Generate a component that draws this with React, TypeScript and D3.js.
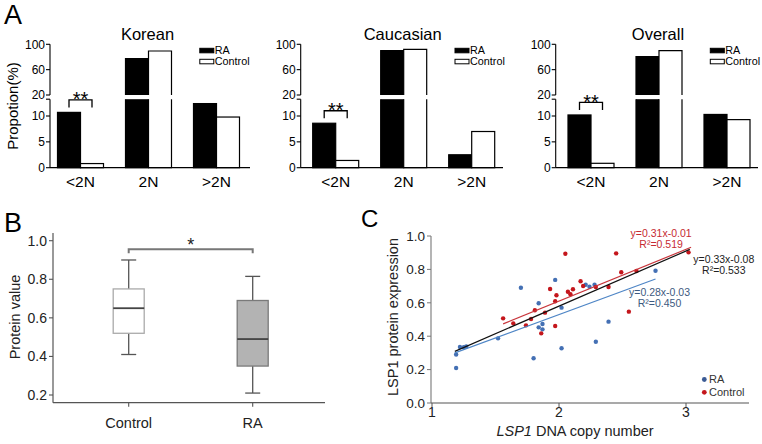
import React from "react";
import * as d3 from "d3";

const FONT = "'Liberation Sans', Arial, Helvetica, sans-serif";

// ---------- Panel A data ----------
const cnvGroups = ["<2N", "2N", ">2N"];
const populations = ["Korean", "Caucasian", "Overall"];
const raKorean = [10.7, 77.3, 12.4];
const controlKorean = [0.8, 89.4, 9.8];
const raCaucasian = [8.6, 89.9, 2.5];
const controlCaucasian = [1.4, 92.1, 7.0];
const raOverall = [10.2, 80.4, 10.3];
const controlOverall = [0.85, 89.9, 9.3];
const lowerTicks = [0, 5, 10];
const upperTicks = [20, 60, 100];
const legendA = ["RA", "Control"];
const sigA = ["**", "**", "**"];

// ---------- Panel B data ----------
const boxGroups = ["Control", "RA"];
const boxMin = [0.41, 0.21];
const boxQ1 = [0.52, 0.35];
const boxMedian = [0.65, 0.49];
const boxQ3 = [0.75, 0.69];
const boxMax = [0.9, 0.815];
const boxTicks = [0.2, 0.4, 0.6, 0.8, 1.0];

// ---------- Panel C data ----------
const raCopy = [1.19, 1.19, 1.22, 1.25, 1.27, 1.52, 1.7, 1.84, 1.84, 1.87, 1.87, 1.8, 1.97, 2.02, 2.02, 2.21, 2.24, 2.28, 2.29, 2.39, 2.76];
const raProtein = [0.21, 0.29, 0.335, 0.334, 0.338, 0.387, 0.69, 0.597, 0.453, 0.473, 0.441, 0.268, 0.737, 0.571, 0.328, 0.708, 0.696, 0.708, 0.367, 0.487, 0.792];
const controlCopy = [1.56, 1.64, 1.74, 1.78, 1.81, 1.86, 1.89, 1.93, 1.97, 1.97, 1.98, 2.05, 2.07, 2.09, 2.11, 2.17, 2.19, 2.29, 2.39, 2.45, 2.49, 2.55, 2.61, 3.02];
const controlProtein = [0.507, 0.477, 0.465, 0.503, 0.555, 0.417, 0.541, 0.683, 0.461, 0.609, 0.645, 0.894, 0.666, 0.651, 0.681, 0.729, 0.701, 0.695, 0.695, 0.896, 0.783, 0.547, 0.79, 0.902];
const fitSlope = [0.31, 0.33, 0.28];
const fitIntercept = [-0.01, -0.08, -0.03];
const fitFrom = [1.56, 1.18, 1.18];
const fitTo = [3.04, 3.03, 2.76];
const fitEq = ["y=0.31x-0.01", "y=0.33x-0.08", "y=0.28x-0.03"];
const fitR2 = ["R\u00B2=0.519", "R\u00B2=0.533", "R\u00B2=0.450"];
const cTicksY = [0, 0.2, 0.4, 0.6, 0.8, 1.0];
const cTicksX = [1, 2, 3];
const legendC = ["RA", "Control"];

// ---------- styling ----------
const RED = "#c4161c";
const BLUE = "#4470b4";
const fitLineColors = ["#c8353b", "#111111", "#4f86c6"];
const fitTextColors = ["#c62a32", "#222222", "#3d5a80"];
const fitLabelDx = [-30, 34, 4];
const fitLabelDy = [-14, 9.5, 13];

export default function App() {
  // ===== Panel A =====
  const aAxisX = [50, 300.7, 555.7];
  const aAxisEnd = [250, 503, 758];
  const aGroupOffset = [30.5, 35, 35.3];
  const yLower = d3.scaleLinear().domain([0, 10]).range([167.7, 116]);
  const yUpper = d3.scaleLinear().domain([20, 100]).range([95, 44.3]);
  const LOWER_MAX = 13.25;
  const barW = 23;
  const seriesA = [
    [raKorean, controlKorean],
    [raCaucasian, controlCaucasian],
    [raOverall, controlOverall],
  ];

  const panelA = populations.map((name, p) => {
    const ax = aAxisX[p];
    const x = d3
      .scalePoint<string>()
      .domain(cnvGroups)
      .range([ax + aGroupOffset[p], ax + aGroupOffset[p] + 136]);
    const els: React.ReactNode[] = [];
    seriesA[p].forEach((vals, s) => {
      vals.forEach((v, i) => {
        const c = x(cnvGroups[i])!;
        const x0 = s === 0 ? c - barW : c;
        const x1 = x0 + barW;
        const fill = s === 0 ? "#000" : "#fff";
        const k = `b${p}-${s}-${i}`;
        if (v <= LOWER_MAX) {
          const yt = yLower(v);
          const yb = yLower(0);
          els.push(
            <rect key={k} x={x0} y={yt} width={barW} height={yb - yt} fill={fill} stroke="#000" strokeWidth={1.2} />
          );
        } else {
          const ylt = yLower(LOWER_MAX);
          const yb = yLower(0);
          const yut = yUpper(v);
          const yub = yUpper(20);
          els.push(<rect key={k + "lf"} x={x0} y={ylt} width={barW} height={yb - ylt} fill={fill} />);
          els.push(
            <path key={k + "ls"} d={`M${x0},${ylt}V${yb}H${x1}V${ylt}`} fill="none" stroke="#000" strokeWidth={1.2} />
          );
          els.push(<rect key={k + "uf"} x={x0} y={yut} width={barW} height={yub - yut} fill={fill} />);
          els.push(
            <path key={k + "us"} d={`M${x0},${yub}V${yut}H${x1}V${yub}`} fill="none" stroke="#000" strokeWidth={1.2} />
          );
        }
      });
    });
    const ra0 = seriesA[p][0][0];
    const c0 = x(cnvGroups[0])!;
    const by = yLower(ra0) - 12.5;
    const bx0 = c0 - barW / 2;
    const bx1 = c0 + barW / 2;
    const legX = x(cnvGroups[2])! - 16.7;
    return (
      <g key={name}>
        <text x={x(cnvGroups[1])! - 1} y={40} textAnchor="middle" fontSize={16.5} fontFamily={FONT}>
          {name}
        </text>
        <line x1={ax} x2={ax} y1={yUpper(100)} y2={yUpper(20)} stroke="#000" strokeWidth={1.1} />
        {upperTicks.map((t) => (
          <g key={"ut" + t}>
            <line x1={ax - 4} x2={ax} y1={yUpper(t)} y2={yUpper(t)} stroke="#000" strokeWidth={1.1} />
            <text x={ax - 5} y={yUpper(t)} dy="0.35em" textAnchor="end" fontSize={12} fontFamily={FONT}>
              {t}
            </text>
          </g>
        ))}
        <line x1={ax} x2={ax} y1={yLower(LOWER_MAX)} y2={yLower(0)} stroke="#000" strokeWidth={1.1} />
        <line x1={ax - 4} x2={ax} y1={yLower(LOWER_MAX)} y2={yLower(LOWER_MAX)} stroke="#000" strokeWidth={1.1} />
        {lowerTicks.map((t) => (
          <g key={"lt" + t}>
            <line x1={ax - 4} x2={ax} y1={yLower(t)} y2={yLower(t)} stroke="#000" strokeWidth={1.1} />
            <text x={ax - 5} y={yLower(t)} dy="0.35em" textAnchor="end" fontSize={12} fontFamily={FONT}>
              {t}
            </text>
          </g>
        ))}
        {els}
        <line x1={ax} x2={aAxisEnd[p]} y1={yLower(0)} y2={yLower(0)} stroke="#000" strokeWidth={1.2} />
        {cnvGroups.map((g) => (
          <text key={g} x={x(g)!} y={187} textAnchor="middle" fontSize={15.5} fontFamily={FONT}>
            {g}
          </text>
        ))}
        <path d={`M${bx0},${by + 7.5}V${by}H${bx1}V${by + 7.5}`} fill="none" stroke="#000" strokeWidth={1.3} />
        <text x={(bx0 + bx1) / 2} y={by + 6.5} textAnchor="middle" fontSize={20} fontFamily={FONT}>
          {sigA[p]}
        </text>
        {legendA.map((l, i) => (
          <g key={l}>
            <rect
              x={legX}
              y={48.3 + i * 11}
              width={14}
              height={4.5}
              fill={i === 0 ? "#000" : "#fff"}
              stroke="#000"
              strokeWidth={1}
            />
            <text x={legX + 15} y={50.5 + i * 11} dy="0.35em" fontSize={10.8} fontFamily={FONT}>
              {l}
            </text>
          </g>
        ))}
      </g>
    );
  });

  // ===== Panel B =====
  const bY = d3.scaleLinear().domain([0.2, 1.0]).range([395, 240.7]);
  const bX = d3.scalePoint<string>().domain(boxGroups).range([128.7, 252.7]);
  const boxW = 31;
  const capW = 15;
  const bAxisX = 53;
  const bAxisY = 402.7;

  const panelB = (
    <g>
      <line x1={bAxisX} x2={bAxisX} y1={233} y2={bAxisY} stroke="#555" strokeWidth={1.2} />
      <line x1={bAxisX} x2={325} y1={bAxisY} y2={bAxisY} stroke="#555" strokeWidth={1.2} />
      {boxTicks.map((t) => (
        <g key={"bt" + t}>
          <line x1={bAxisX - 4} x2={bAxisX} y1={bY(t)} y2={bY(t)} stroke="#555" strokeWidth={1.1} />
          <text x={bAxisX - 6} y={bY(t)} dy="0.35em" textAnchor="end" fontSize={14} fill="#222" fontFamily={FONT}>
            {d3.format(".1f")(t)}
          </text>
        </g>
      ))}
      {boxGroups.map((g, i) => {
        const cx = bX(g)!;
        const isRA = i === 1;
        return (
          <g key={g}>
            <line x1={cx} x2={cx} y1={bAxisY} y2={bAxisY + 4} stroke="#555" strokeWidth={1.1} />
            <line x1={cx} x2={cx} y1={bY(boxMax[i])} y2={bY(boxQ3[i])} stroke="#555" strokeWidth={1.3} />
            <line x1={cx} x2={cx} y1={bY(boxQ1[i])} y2={bY(boxMin[i])} stroke="#555" strokeWidth={1.3} />
            <line x1={cx - capW / 2} x2={cx + capW / 2} y1={bY(boxMax[i])} y2={bY(boxMax[i])} stroke="#555" strokeWidth={1.3} />
            <line x1={cx - capW / 2} x2={cx + capW / 2} y1={bY(boxMin[i])} y2={bY(boxMin[i])} stroke="#555" strokeWidth={1.3} />
            <rect
              x={cx - boxW / 2}
              y={bY(boxQ3[i])}
              width={boxW}
              height={bY(boxQ1[i]) - bY(boxQ3[i])}
              fill={isRA ? "#b3b3b3" : "#fff"}
              stroke={isRA ? "#7a7a7a" : "#aaaaaa"}
              strokeWidth={1.3}
            />
            <line x1={cx - boxW / 2} x2={cx + boxW / 2} y1={bY(boxMedian[i])} y2={bY(boxMedian[i])} stroke="#444" strokeWidth={1.8} />
            <text x={cx} y={428} textAnchor="middle" fontSize={14.5} fill="#222" fontFamily={FONT}>
              {g}
            </text>
          </g>
        );
      })}
      <path
        d={`M${bX("Control")},253.3V249.3H${bX("RA")}V253.3`}
        fill="none"
        stroke="#777"
        strokeWidth={2}
      />
      <text x={(bX("Control")! + bX("RA")!) / 2} y={251} textAnchor="middle" fontSize={18} fill="#222" fontFamily={FONT}>
        *
      </text>
      <text
        transform="translate(20,317) rotate(-90)"
        textAnchor="middle"
        fontSize={14.5}
        fill="#222"
        fontFamily={FONT}
      >
        Protein value
      </text>
    </g>
  );

  // ===== Panel C =====
  const cX = d3.scaleLinear().domain([1, 3]).range([432, 686]);
  const cY = d3.scaleLinear().domain([0, 1]).range([403, 236]);
  const cAxisEnd = 749;

  const panelC = (
    <g>
      <line x1={cX(1) - 1} x2={cX(1) - 1} y1={cY(1)} y2={cY(0)} stroke="#777" strokeWidth={1.1} />
      <line x1={cX(1) - 1} x2={cAxisEnd} y1={cY(0)} y2={cY(0)} stroke="#555" strokeWidth={1.2} />
      {cTicksY.map((t) => (
        <g key={"cy" + t}>
          <line x1={cX(1) - 5} x2={cX(1) - 1} y1={cY(t)} y2={cY(t)} stroke="#777" strokeWidth={1} />
          <text x={cX(1) - 7} y={cY(t)} dy="0.35em" textAnchor="end" fontSize={13.5} fill="#222" fontFamily={FONT}>
            {d3.format(".1f")(t)}
          </text>
        </g>
      ))}
      {cTicksX.map((t) => (
        <g key={"cx" + t}>
          <line x1={cX(t)} x2={cX(t)} y1={cY(0)} y2={cY(0) + 4} stroke="#555" strokeWidth={1} />
          <text x={cX(t)} y={cY(0) + 14} textAnchor="middle" fontSize={14} fill="#222" fontFamily={FONT}>
            {t}
          </text>
        </g>
      ))}
      {raCopy.map((v, i) => (
        <circle key={"ra" + i} cx={cX(v)} cy={cY(raProtein[i])} r={2.2} fill={BLUE} />
      ))}
      {controlCopy.map((v, i) => (
        <circle key={"co" + i} cx={cX(v)} cy={cY(controlProtein[i])} r={2.2} fill={RED} />
      ))}
      {fitSlope.map((m, i) => {
        const b = fitIntercept[i];
        const xe = cX(fitTo[i]);
        const ye = cY(m * fitTo[i] + b);
        return (
          <g key={"fit" + i}>
            <line
              x1={cX(fitFrom[i])}
              y1={cY(m * fitFrom[i] + b)}
              x2={xe}
              y2={ye}
              stroke={fitLineColors[i]}
              strokeWidth={1.2}
            />
            <text x={xe + fitLabelDx[i]} y={ye + fitLabelDy[i]} dy="0.35em" textAnchor="middle" fontSize={10.5} fill={fitTextColors[i]} fontFamily={FONT}>
              {fitEq[i]}
            </text>
            <text x={xe + fitLabelDx[i]} y={ye + fitLabelDy[i] + 11.5} dy="0.35em" textAnchor="middle" fontSize={10.5} fill={fitTextColors[i]} fontFamily={FONT}>
              {fitR2[i]}
            </text>
          </g>
        );
      })}
      {legendC.map((l, i) => (
        <g key={l}>
          <circle cx={704.3} cy={379.5 + i * 12.8} r={2.4} fill={i === 0 ? "#3a5a94" : RED} />
          <text x={709} y={379.5 + i * 12.8} dy="0.35em" fontSize={11} fill="#333" fontFamily={FONT}>
            {l}
          </text>
        </g>
      ))}
      <text
        transform="translate(398,317) rotate(-90)"
        textAnchor="middle"
        fontSize={14.5}
        fill="#222"
        fontFamily={FONT}
      >
        LSP1 protein expression
      </text>
      <text x={575} y={436} textAnchor="middle" fontSize={14.5} fill="#222" fontFamily={FONT}>
        <tspan fontStyle="italic">LSP1</tspan> DNA copy number
      </text>
    </g>
  );

  return (
    <svg
      width={762}
      height={444}
      viewBox="0 0 762 444"
      style={{ position: "absolute", left: 0, top: 0, background: "#fff" }}
    >
      <rect x={0} y={0} width={762} height={444} fill="#fff" />
      <text x={4} y={24} fontSize={27} fontFamily={FONT}>
        A
      </text>
      <text x={4} y={232} fontSize={27} fontFamily={FONT}>
        B
      </text>
      <text x={361} y={227} fontSize={24} fontFamily={FONT}>
        C
      </text>
      <text
        transform="translate(18,106) rotate(-90)"
        textAnchor="middle"
        fontSize={15}
        fontFamily={FONT}
      >
        Propotion(%)
      </text>
      {panelA}
      {panelB}
      {panelC}
    </svg>
  );
}
